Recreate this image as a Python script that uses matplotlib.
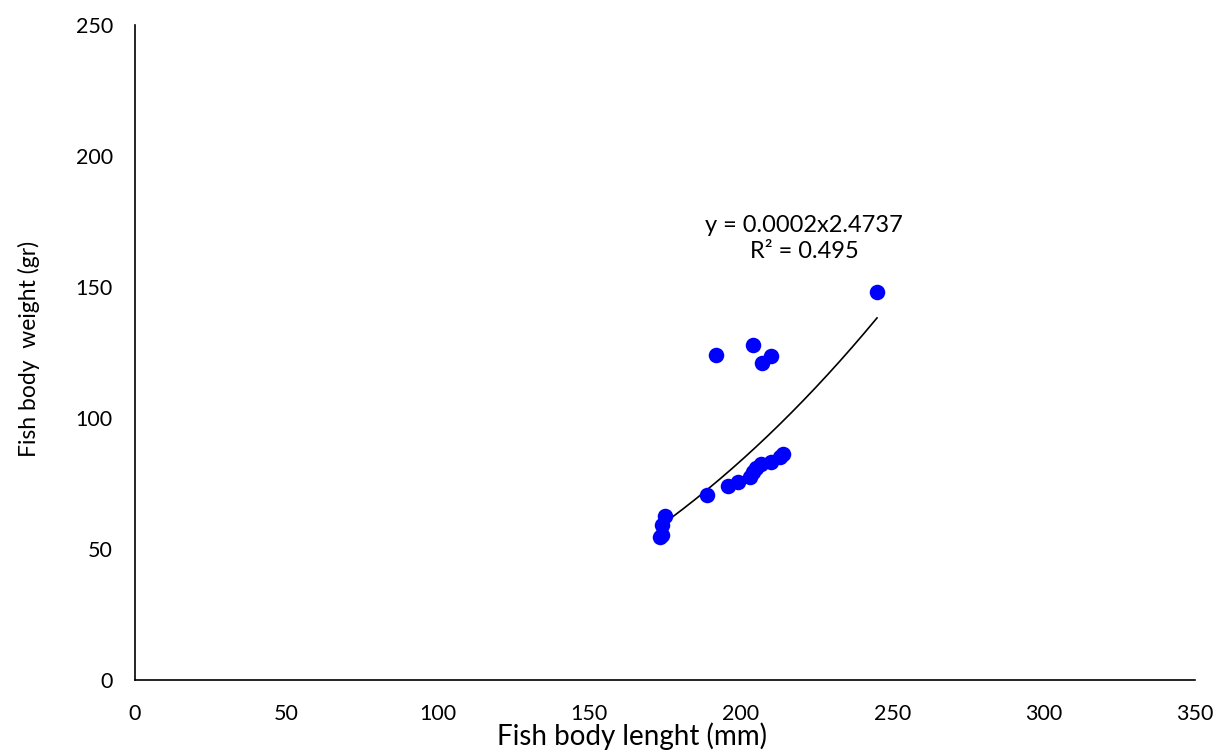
import matplotlib
matplotlib.use("Agg")
import matplotlib.pyplot as plt
import numpy as np

# fish body length (mm) vs weight (gr)
length_mm = [245, 192, 204, 210, 207, 214, 213, 210, 206.6, 205.2, 204, 203, 199, 195.8, 189, 175, 174, 173.3, 174]
weight_gr = [148, 124, 128, 123.5, 121, 86.2, 85, 83.3, 82.4, 80.8, 79.5, 77.6, 75.6, 74, 70.6, 62.5, 59.2, 54.6, 55.2]

# power trendline as drawn (coefficient shown rounded in the label)
trend_a = 0.00017
trend_b = 2.4737
eq_label = "y = 0.0002x2.4737\nR² = 0.495"

plt.rcParams['font.family'] = ['Lato', 'DejaVu Sans']

fig = plt.figure(figsize=(12.23, 7.54), dpi=100)
ax = fig.add_axes([0.1104, 0.0981, 0.8667, 0.8687])

ax.scatter(length_mm, weight_gr, s=125, color="#0000FF", zorder=3, linewidths=0)

xs = np.linspace(min(length_mm), max(length_mm), 200)
ax.plot(xs, trend_a * xs ** trend_b, color="black", lw=1.2, zorder=2)

ax.text(221, 168.5, eq_label, ha="center", va="center", fontsize=17, linespacing=1.3)

ax.set_xlim(0, 350)
ax.set_ylim(0, 250)
ax.set_xticks(range(0, 351, 50))
ax.set_yticks(range(0, 251, 50))
ax.tick_params(length=0, labelsize=15.5)
ax.tick_params(axis="y", pad=16)
ax.tick_params(axis="x", pad=17)
for side in ["top", "right"]:
    ax.spines[side].set_visible(False)
for side in ["left", "bottom"]:
    ax.spines[side].set_linewidth(1.2)

ax.set_xlabel("Fish body lenght (mm)", fontsize=20)
ax.xaxis.set_label_coords(0.469, -0.065)
ax.set_ylabel("Fish body  weight (gr)", fontsize=16.5)
ax.yaxis.set_label_coords(-0.09, 0.505)

fig.savefig("out.png", dpi=100)
